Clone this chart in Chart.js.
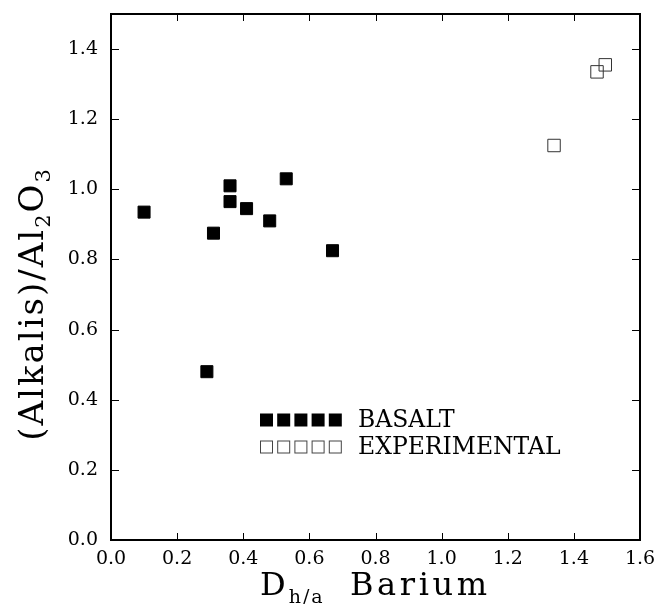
<!DOCTYPE html>
<html>
<head>
<meta charset="utf-8">
<script src="https://cdn.jsdelivr.net/npm/chart.js@4/dist/chart.umd.min.js"></script>
<style>
  html, body { margin: 0; padding: 0; background: #fff; }
  #wrap { width: 661px; height: 604px; }
</style>
</head>
<body>
<div id="wrap"><canvas id="my-chart" width="661" height="604"></canvas></div>
<script>
'use strict';

// ******** DATA **************
let basaltX = [0.10, 0.31, 0.36, 0.36, 0.41, 0.48, 0.53, 0.67, 0.29];
let basaltY = [0.935, 0.875, 0.965, 1.01, 0.945, 0.91, 1.03, 0.825, 0.48];

let experX = [1.47, 1.495, 1.34];
let experY = [1.335, 1.355, 1.125];

let xTicks = [0.0, 0.2, 0.4, 0.6, 0.8, 1.0, 1.2, 1.4, 1.6];
let yTicks = [0.0, 0.2, 0.4, 0.6, 0.8, 1.0, 1.2, 1.4];

let legendNames = ['BASALT', 'EXPERIMENTAL'];

// ********* HELPERS ****************
let serif = "'DejaVu Serif', 'Liberation Serif', serif";

function toPoints(xs, ys) {
  let pts = [];
  for (let i = 0; i < xs.length; i++) {
    pts.push({ x: xs[i], y: ys[i] });
  }
  return pts;
}

function keepTicks(list) {
  return function (scale) {
    scale.ticks = list.map(v => ({ value: v }));
  };
}

// draws text letter by letter with extra spacing, returns end x
function spacedText(ctx, str, x, y, gap) {
  for (let ch of str) {
    ctx.fillText(ch, x, y);
    x += ctx.measureText(ch).width + gap;
  }
  return x - gap;
}

function spacedWidth(ctx, str, gap) {
  let w = 0;
  for (let ch of str) {
    w += ctx.measureText(ch).width + gap;
  }
  return w - gap;
}

// ********* FRAME + INWARD TICKS *************
let framePlugin = {
  id: 'frame',
  afterDraw(chart) {
    let ctx = chart.ctx;
    let a = chart.chartArea;
    let xs = chart.scales.x;
    let ys = chart.scales.y;
    ctx.save();
    ctx.strokeStyle = '#000';
    ctx.lineWidth = 1;
    ctx.beginPath();
    xTicks.forEach(v => {
      let px = Math.round(xs.getPixelForValue(v)) + 0.5;
      ctx.moveTo(px, a.bottom);
      ctx.lineTo(px, a.bottom - 7);
      ctx.moveTo(px, a.top);
      ctx.lineTo(px, a.top + 7);
    });
    yTicks.forEach(v => {
      let py = Math.round(ys.getPixelForValue(v)) + 0.5;
      ctx.moveTo(a.left, py);
      ctx.lineTo(a.left + 8, py);
      ctx.moveTo(a.right, py);
      ctx.lineTo(a.right - 8, py);
    });
    ctx.stroke();
    ctx.lineWidth = 2;
    ctx.strokeRect(a.left, a.top, a.right - a.left, a.bottom - a.top);
    ctx.restore();
  }
};

// ********* AXIS TITLES (with subscripts) *************
let titlePlugin = {
  id: 'titles',
  afterDraw(chart) {
    let ctx = chart.ctx;
    ctx.save();
    ctx.fillStyle = '#000';
    ctx.textBaseline = 'alphabetic';

    // x title: D_h/a  Barium
    let big = '32px ' + serif;
    let small = '19px ' + serif;
    let base = 595;
    ctx.font = big;
    let x = spacedText(ctx, 'D', 260, base, 0);
    ctx.font = small;
    spacedText(ctx, 'h/a', x + 3, base + 8, 2);
    ctx.font = big;
    spacedText(ctx, 'Barium', 350, base, 3.6);

    // y title: (Alkalis)/Al2O3, rotated
    ctx.translate(43, 304);
    ctx.rotate(-Math.PI / 2);
    let parts = [['(Alkalis)/Al', false], ['2', true], ['O', false], ['3', true]];
    let gap = 2;
    let total = 0;
    parts.forEach(p => {
      ctx.font = p[1] ? '21px ' + serif : '34px ' + serif;
      total += spacedWidth(ctx, p[0], gap) + gap;
    });
    let cx = -total / 2;
    parts.forEach(p => {
      ctx.font = p[1] ? '21px ' + serif : '34px ' + serif;
      cx = spacedText(ctx, p[0], cx, p[1] ? 7 : 0, gap) + gap;
    });
    ctx.restore();
  }
};

// ********* LEGEND (inside the plot) *************
let legendPlugin = {
  id: 'boxLegend',
  afterDraw(chart) {
    let ctx = chart.ctx;
    let a = chart.chartArea;
    let left = a.left + 149;
    let rows = [a.top + 406, a.top + 433];
    let side = 13;
    ctx.save();
    for (let r = 0; r < rows.length; r++) {
      for (let i = 0; i < 5; i++) {
        let sx = left + i * 17.2;
        let sy = rows[r] - side / 2;
        if (r === 0) {
          ctx.fillStyle = '#000';
          ctx.fillRect(sx, sy, side, side);
        } else {
          ctx.strokeStyle = '#444';
          ctx.lineWidth = 1;
          ctx.strokeRect(sx + 0.5, sy + 0.5, side - 1, side - 1);
        }
      }
      ctx.fillStyle = '#000';
      ctx.font = '23.5px ' + serif;
      ctx.textBaseline = 'middle';
      ctx.fillText(legendNames[r], a.left + 247, rows[r] + 1);
    }
    ctx.restore();
  }
};

// ********* CHART CONFIG *************
let canvasElem = document.getElementById('my-chart');

let myObj = {
  type: 'scatter',
  data: {
    datasets: [{
      label: legendNames[0],
      data: toPoints(basaltX, basaltY),
      pointStyle: 'rect',
      pointRadius: 8.5,
      pointHoverRadius: 8.5,
      backgroundColor: '#000',
      borderColor: '#000',
      borderWidth: 1
    },
    {
      label: legendNames[1],
      data: toPoints(experX, experY),
      pointStyle: 'rect',
      pointRadius: 8.8,
      pointHoverRadius: 8.8,
      backgroundColor: 'rgba(0,0,0,0)',
      borderColor: '#333',
      borderWidth: 1
    }]
  },
  options: {
    responsive: false,
    animation: false,
    devicePixelRatio: 1,
    layout: { padding: { top: 14, right: 21, left: 0, bottom: 0 } },
    plugins: {
      legend: { display: false },
      tooltip: { enabled: false }
    },
    scales: {
      x: {
        type: 'linear',
        min: 0,
        max: 1.6,
        afterBuildTicks: keepTicks(xTicks),
        afterFit: s => { s.height = 64; s.paddingLeft = 0; s.paddingRight = 0; },
        grid: { display: false, drawTicks: false },
        border: { display: false },
        ticks: {
          padding: 8,
          color: '#000',
          font: { family: serif, size: 19 },
          callback: v => v.toFixed(1)
        }
      },
      y: {
        type: 'linear',
        min: 0,
        max: 1.5,
        afterBuildTicks: keepTicks(yTicks),
        afterFit: s => { s.width = 111; s.paddingTop = 0; s.paddingBottom = 0; },
        grid: { display: false, drawTicks: false },
        border: { display: false },
        ticks: {
          padding: 13,
          color: '#000',
          font: { family: serif, size: 19 },
          callback: v => v.toFixed(1)
        }
      }
    }
  },
  plugins: [framePlugin, titlePlugin, legendPlugin]
};

new Chart(canvasElem, myObj);
</script>
</body>
</html>
